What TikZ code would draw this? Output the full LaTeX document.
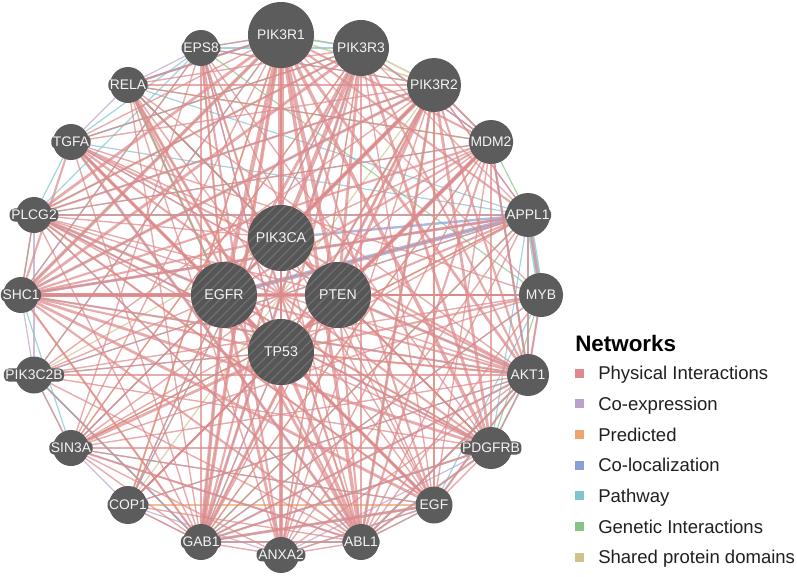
\documentclass[tikz,border=0pt]{standalone}
\usepackage{fontspec}
\setmainfont{Liberation Sans}
\usetikzlibrary{backgrounds,patterns.meta}
\definecolor{ngray}{HTML}{5C5C5C}
\definecolor{hgray}{HTML}{565656}
\definecolor{stripe}{HTML}{6E6E6E}
\definecolor{ltext}{HTML}{F4F4F4}
\definecolor{cphys}{HTML}{DE8A8C}
\definecolor{ccoex}{HTML}{BBA2CC}
\definecolor{cpred}{HTML}{EFA66C}
\definecolor{ccoloc}{HTML}{8C9FD4}
\definecolor{cpath}{HTML}{80C4D0}
\definecolor{cgen}{HTML}{86C486}
\definecolor{cdom}{HTML}{CFC28C}
\begin{document}
\begin{tikzpicture}[x=0.75pt,y=-0.75pt,
  gnode/.style={circle, fill=ngray, draw=none, inner sep=0pt},
  hnode/.style={circle, fill=hgray, draw=none, inner sep=0pt, minimum size=49.5pt,
     postaction={pattern={Lines[angle=45,distance=5pt,line width=1pt]}, pattern color=stripe}},
  lbl/.style={fill=ngray, rounded corners=3.5pt, inner sep=1.2pt, text=ltext, font=\fontsize{10.4}{12}\selectfont},
  ilbl/.style={inner sep=1pt, text=ltext, font=\fontsize{10.6}{12}\selectfont},
  ln/.style={line cap=round, opacity=0.72},
  legsq/.style={minimum size=6.75pt, inner sep=0pt, draw=none},
  legtxt/.style={anchor=base west, font=\fontsize{13.9}{16}\selectfont, text=black!88}]
\useasboundingbox (0,0) rectangle (797,576);

% outer ring
\foreach \n/\x/\y/\d in {PIK3R1/281/35/66, PIK3R3/361/48/56, PIK3R2/434/85/54,
  MDM2/491/142/44, APPL1/528/215/44, MYB/541/295/44, AKT1/528/375/42,
  PDGFRB/491/448/42, EGF/434/505/37, ABL1/361/542/36, ANXA2/281/555/36,
  GAB1/201/542/36, COP1/128/505/38, SIN3A/71/448/36, PIK3C2B/34/375/37,
  SHC1/21/295/36, PLCG2/34/215/36, TGFA/71/142/36, RELA/128/85/36, EPS8/201/48/36}
{\pgfmathsetmacro\dd{\d*0.75}
 \node[gnode, minimum size=\dd pt] (\n) at (\x,\y) {};
 \node[lbl] (t\n) at (\n) {\n};}

% query genes
\foreach \n/\x/\y in {PIK3CA/281/238, EGFR/224/295, PTEN/338/295, TP53/281/352}
{\node[hnode] (\n) at (\x,\y) {};
 \node[ilbl] (t\n) at (\n) {\n};}

\begin{pgfonlayer}{background}
% shared protein domains
\foreach \a/\b/\w in {PIK3R1/PIK3R2/1.5, PIK3R1/PIK3R3/1.5, PIK3R3/PIK3R2/1.5, GAB1/PIK3R2/1,
  SHC1/PLCG2/1, TGFA/EGF/1.5, PDGFRB/EGFR/1, PIK3C2B/PIK3CA/1, ABL1/PLCG2/1,
  ANXA2/PIK3R3/1, EPS8/ABL1/1, COP1/PIK3R2/1}
 \draw[ln, cdom, line width=\w*0.9pt] (\a) -- (\b);
% genetic interactions
\foreach \a/\b/\w in {TGFA/PIK3R3/1, MDM2/APPL1/1, RELA/PTEN/1.5, RELA/MDM2/1, EPS8/MYB/1,
  SHC1/PIK3R1/1, PLCG2/PIK3R3/1, MYB/PDGFRB/1, APPL1/GAB1/1, COP1/MDM2/1, TP53/PIK3R2/1,
  RELA/EGFR/2, APPL1/SIN3A/1, ABL1/PIK3R2/1}
 \draw[ln, cgen, line width=\w*0.9pt] (\a) -- (\b);
% co-localization
\foreach \a/\b/\w in {APPL1/EGFR/3.5, APPL1/PIK3CA/2, RELA/PIK3R1/1.5, EPS8/TP53/1,
  PIK3R2/EGFR/1, MDM2/PTEN/1.5, PLCG2/PDGFRB/1, APPL1/SHC1/1.5}
 \draw[ln, ccoloc, line width=\w*0.9pt] (\a) -- (\b);
% predicted
\foreach \a/\b/\w in {COP1/PIK3R1/1.5, GAB1/PIK3R1/1, SIN3A/PIK3R3/1, TGFA/EGF/1,
  SHC1/PTEN/1.5, PLCG2/EGF/1, RELA/TP53/1, EPS8/EGFR/1, AKT1/TP53/1, GAB1/SHC1/1,
  EGF/PIK3R2/1, PDGFRB/PIK3CA/1, COP1/EGF/1, SIN3A/APPL1/1, GAB1/MDM2/1}
 \draw[ln, cpred, line width=\w*0.9pt] (\a) -- (\b);
% co-expression
\foreach \a/\b/\w in {PIK3C2B/GAB1/1, COP1/GAB1/1, COP1/ANXA2/1, SIN3A/ABL1/1, SIN3A/COP1/1,
  MDM2/AKT1/1.5, APPL1/PIK3R2/1, PIK3R2/MDM2/1, RELA/TGFA/1, PIK3C2B/PLCG2/1,
  SHC1/PIK3C2B/1, MYB/AKT1/1, TP53/EGF/1, ANXA2/PDGFRB/1, PLCG2/ABL1/1, TGFA/PTEN/1,
  PIK3R3/MDM2/1, EPS8/RELA/1}
 \draw[ln, ccoex, line width=\w*0.9pt] (\a) -- (\b);
% pathway
\foreach \a/\b/\w in {EPS8/PIK3R3/1, EPS8/PIK3R2/1, RELA/PIK3R1/1, RELA/PTEN/1, RELA/APPL1/1,
  TGFA/PIK3R3/1, TGFA/APPL1/1, PLCG2/MDM2/1, PLCG2/APPL1/1, PLCG2/PIK3R2/1,
  SHC1/PIK3R2/1, SHC1/MYB/1, SHC1/AKT1/1, PIK3C2B/GAB1/1.5, PIK3C2B/PIK3R1/1,
  PIK3C2B/APPL1/1, PIK3C2B/SIN3A/1, SIN3A/EGF/1, SIN3A/PIK3R2/1, COP1/EGFR/1,
  COP1/PIK3R3/1, COP1/AKT1/1, GAB1/EGF/1.5, GAB1/PDGFRB/1.5, GAB1/AKT1/1, GAB1/ABL1/1.5,
  GAB1/MYB/1, ANXA2/EGF/1, ABL1/EGF/1, ABL1/AKT1/1.5, ABL1/PDGFRB/1, EGF/AKT1/1,
  EGF/MYB/1, PDGFRB/AKT1/1.5, PDGFRB/APPL1/1, AKT1/APPL1/1.5, AKT1/MDM2/1, APPL1/MYB/5,
  MDM2/PIK3R3/1, EGFR/PLCG2/1, EGFR/SHC1/1, EGFR/GAB1/1, PTEN/AKT1/1, TP53/GAB1/1,
  TP53/PIK3C2B/1, EPS8/SHC1/1, EPS8/PLCG2/1, EPS8/TGFA/1, PIK3R1/PIK3R3/1, EPS8/PIK3R1/1,
  GAB1/PIK3R3/1, ABL1/TGFA/1, SHC1/SIN3A/1, PLCG2/SHC1/1, TGFA/PLCG2/1}
 \draw[ln, cpath, line width=\w*0.9pt] (\a) -- (\b);
% physical interactions
\foreach \a/\b/\w in {PIK3R1/PIK3CA/4, PIK3R1/EGFR/3, PIK3R1/PTEN/3, PIK3R1/TP53/2,
  PIK3R1/MDM2/1.5, PIK3R1/APPL1/1.5, PIK3R1/MYB/1, PIK3R1/AKT1/2, PIK3R1/PDGFRB/2.5,
  PIK3R1/EGF/1.5, PIK3R1/ABL1/2.5, PIK3R1/ANXA2/2, PIK3R1/GAB1/2.5, PIK3R1/COP1/1,
  PIK3R1/SIN3A/1, PIK3R1/PIK3C2B/1, PIK3R1/SHC1/2.5, PIK3R1/PLCG2/2, PIK3R1/TGFA/1,
  PIK3R1/RELA/1.5, PIK3R1/EPS8/1,
  PIK3R3/PIK3CA/3, PIK3R3/EGFR/2, PIK3R3/PTEN/2, PIK3R3/TP53/1.5, PIK3R3/AKT1/1.5,
  PIK3R3/PDGFRB/2, PIK3R3/EGF/1, PIK3R3/ABL1/2, PIK3R3/GAB1/2, PIK3R3/SHC1/2,
  PIK3R3/PLCG2/1.5, PIK3R3/MDM2/1, PIK3R3/APPL1/1, PIK3R3/SIN3A/1, PIK3R3/ANXA2/1,
  PIK3R3/RELA/1, PIK3R3/TGFA/1, PIK3R3/COP1/0.8,
  PIK3R2/PIK3CA/3, PIK3R2/EGFR/2, PIK3R2/PTEN/2, PIK3R2/TP53/1.5, PIK3R2/AKT1/1.5,
  PIK3R2/PDGFRB/2, PIK3R2/ABL1/2, PIK3R2/GAB1/2, PIK3R2/SHC1/2, PIK3R2/PLCG2/1.5,
  PIK3R2/MDM2/1.5, PIK3R2/APPL1/1, PIK3R2/EGF/1, PIK3R2/SIN3A/1, PIK3R2/TGFA/1,
  PIK3R2/RELA/1, PIK3R2/PIK3C2B/1, PIK3R2/EPS8/1, PIK3R2/ANXA2/1,
  PIK3CA/EGFR/2, PIK3CA/PTEN/2, PIK3CA/TP53/2, PIK3CA/SHC1/1.5, PIK3CA/GAB1/1.5,
  PIK3CA/AKT1/1.5, PIK3CA/PDGFRB/1.5, PIK3CA/MDM2/1, PIK3CA/ABL1/1, PIK3CA/TGFA/1,
  PIK3CA/EGF/1, PIK3CA/PLCG2/1,
  EGFR/PTEN/2, EGFR/TP53/2, EGFR/SHC1/3, EGFR/PLCG2/2, EGFR/GAB1/2.5, EGFR/EGF/2.5,
  EGFR/TGFA/2.5, EGFR/ABL1/2, EGFR/ANXA2/2, EGFR/PDGFRB/1.5, EGFR/MDM2/1.5, EGFR/APPL1/1,
  EGFR/AKT1/1.5, EGFR/EPS8/1.5, EGFR/RELA/1, EGFR/SIN3A/1, EGFR/COP1/1, EGFR/MYB/1,
  EGFR/PIK3C2B/1,
  PTEN/TP53/2, PTEN/SHC1/2.5, PTEN/MDM2/2, PTEN/AKT1/2, PTEN/APPL1/1.5, PTEN/MYB/1,
  PTEN/ABL1/1.5, PTEN/ANXA2/1.5, PTEN/GAB1/1, PTEN/SIN3A/1, PTEN/PLCG2/1, PTEN/TGFA/1,
  PTEN/RELA/1, PTEN/EGF/1, PTEN/PDGFRB/1, PTEN/COP1/1,
  TP53/MDM2/3, TP53/MYB/1.5, TP53/AKT1/1.5, TP53/ABL1/2.5, TP53/ANXA2/2.5, TP53/SIN3A/2,
  TP53/COP1/1.5, TP53/RELA/2, TP53/SHC1/1.5, TP53/GAB1/1, TP53/PLCG2/1, TP53/EGF/1,
  TP53/PDGFRB/1, TP53/PIK3C2B/1, TP53/TGFA/1, TP53/APPL1/1, TP53/EPS8/1,
  SHC1/APPL1/2, SHC1/MYB/1.5, SHC1/PDGFRB/2, SHC1/AKT1/1.5, SHC1/EGF/2, SHC1/ABL1/1.5,
  SHC1/GAB1/1.5, SHC1/PLCG2/1, SHC1/TGFA/1.5, SHC1/MDM2/1.5, SHC1/EPS8/1,
  PLCG2/PDGFRB/1.5, PLCG2/EGF/1.5, PLCG2/ABL1/1, PLCG2/AKT1/1, PLCG2/APPL1/1,
  PLCG2/MDM2/1, PLCG2/GAB1/1,
  TGFA/EGF/1, TGFA/ABL1/2, TGFA/AKT1/1.5, TGFA/PDGFRB/1.5, TGFA/MYB/1, TGFA/GAB1/1,
  RELA/ABL1/1.5, RELA/ANXA2/1, RELA/MDM2/1, RELA/AKT1/1, RELA/EGF/1, RELA/PDGFRB/1,
  RELA/GAB1/1,
  EPS8/ABL1/1.5, EPS8/GAB1/1.5, EPS8/ANXA2/1.5, EPS8/EGF/1, EPS8/SIN3A/1, EPS8/PDGFRB/1,
  MDM2/AKT1/1.5, MDM2/ABL1/1.5, MDM2/EGF/1, MDM2/PDGFRB/1, MDM2/ANXA2/1, MDM2/SIN3A/1,
  MDM2/COP1/1.5, MDM2/GAB1/1,
  APPL1/AKT1/2, APPL1/MYB/2, APPL1/ABL1/1, APPL1/ANXA2/1, APPL1/GAB1/1, APPL1/SIN3A/1,
  APPL1/PIK3C2B/1,
  MYB/AKT1/1.5, MYB/ABL1/1, MYB/SIN3A/1, MYB/GAB1/1, MYB/PIK3C2B/1,
  AKT1/PDGFRB/1, AKT1/EGF/1.5, AKT1/ABL1/1.5, AKT1/ANXA2/1, AKT1/GAB1/1.5, AKT1/SIN3A/1,
  AKT1/COP1/1, AKT1/PIK3C2B/1,
  PDGFRB/EGF/1, PDGFRB/ABL1/1.5, PDGFRB/GAB1/1.5, PDGFRB/SIN3A/1, PDGFRB/PIK3C2B/1,
  EGF/ABL1/1, EGF/GAB1/2, EGF/ANXA2/1, EGF/SIN3A/1,
  ABL1/GAB1/1.5, ABL1/ANXA2/1, ABL1/SIN3A/1.5, ABL1/COP1/1, ABL1/PIK3C2B/1,
  ANXA2/GAB1/1, ANXA2/SIN3A/1, GAB1/SIN3A/1, GAB1/COP1/1, GAB1/PIK3C2B/1, SIN3A/PIK3C2B/1}
 \draw[ln, cphys, line width=\w*1.05pt] (\a) -- (\b);
\end{pgfonlayer}

% legend
\node[anchor=base west, inner sep=0pt, font=\fontsize{16.8}{20}\selectfont\bfseries, text=black] (nettitle) at (575,351) {Networks};
\foreach \k/\c/\t in {0/cphys/Physical Interactions, 1/ccoex/Co-expression,
  2/cpred/Predicted, 3/ccoloc/Co-localization, 4/cpath/Pathway,
  5/cgen/Genetic Interactions, 6/cdom/Shared protein domains}
{\pgfmathsetmacro\yy{373+30.7*\k}
 \pgfmathsetmacro\yb{\yy+6.6}
 \node[legsq, fill=\c] (sq\k) at (579.5,\yy) {};
 \node[legtxt, inner sep=0pt] (lt\k) at (598,\yb) {\t};}
\end{tikzpicture}
\end{document}
